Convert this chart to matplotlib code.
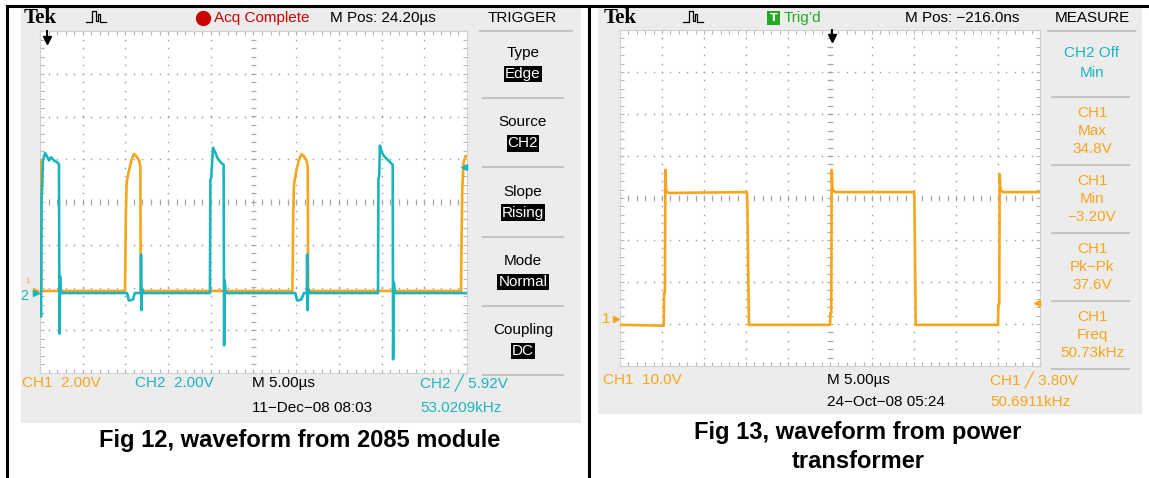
"""Two Tek scope screenshots side by side (Fig 12 / Fig 13), redrawn with matplotlib."""

import matplotlib

matplotlib.use("Agg")
import matplotlib.pyplot as plt
import numpy as np
from matplotlib.patches import Rectangle
from matplotlib.ticker import MultipleLocator

W, H = 1149, 478
ORANGE = "#F8A51B"
CYAN = "#1BB5C0"
PANEL = "#ECECEC"
SCOPE_FONT = ["Liberation Sans", "DejaVu Sans"]

# ---- Fig 12: 2085 module, CH1 + CH2, 5 us/div, 2 V/div ----
L_TDIV = 5.0
L_VDIV = 2.0
L_MPOS = 24.20  # us
L_TRIG = 5.92  # V on CH2
L_CH1_T = [0.0, 0.1, 0.15, 9.95, 10.0, 10.05, 10.15, 10.4, 10.7, 11.0, 11.3, 11.6, 11.75, 11.8,
           29.55, 29.6, 29.65, 29.75, 30.0, 30.3, 30.6, 30.9, 31.2, 31.35, 31.4,
           49.3, 49.35, 49.45, 49.6, 49.8, 50.0]
L_CH1_V = [6.1, 6.0, 0.0, 0.0, 1.3, 3.5, 5.1, 5.6, 6.1, 6.4, 6.3, 6.1, 5.8, 0.0,
           0.0, 1.5, 3.6, 5.0, 5.6, 6.1, 6.4, 6.3, 6.1, 5.8, 0.0,
           0.0, 2.0, 4.8, 6.0, 6.3, 6.3]
L_CH2_T = [0.0, 0.12, 0.18, 0.23, 0.35, 0.59, 0.82, 1.05, 1.29, 1.64, 2.11, 2.22, 2.28, 2.34, 2.46,
           10.2, 10.4, 10.9, 11.1, 11.8, 11.83, 11.88, 11.95, 12.1,
           19.9, 19.95, 20.05, 20.26, 20.5, 20.8, 21.2, 21.5, 21.56, 21.62, 21.75,
           29.9, 30.1, 30.6, 30.9, 31.25, 31.28, 31.33, 31.4, 31.55,
           39.58, 39.63, 39.72, 39.8, 40.0, 40.3, 40.8, 41.3, 41.35, 41.42, 41.6, 50.0]
L_CH2_V = [0.0, -1.1, 4.4, 4.8, 6.2, 6.55, 6.4, 6.2, 6.35, 6.2, 6.1, 6.0, -1.9, 0.8, 0.0,
           0.0, -0.35, -0.3, 0.0, 0.0, 1.8, -0.8, 0.2, 0.0,
           0.0, 5.3, 5.4, 6.8, 6.6, 6.3, 6.1, 6.0, -2.45, 0.6, 0.0,
           0.0, -0.35, -0.3, 0.0, 0.0, 1.8, -0.8, 0.2, 0.0,
           0.0, 5.3, 5.5, 6.9, 6.6, 6.4, 6.2, 6.0, -3.1, 0.5, 0.0, 0.0]
L_CH1_GND = -2.08  # divisions from centre
L_CH2_GND = -2.13

# ---- Fig 13: power transformer, CH1 only, 5 us/div, 10 V/div ----
R_TDIV = 5.0
R_VDIV = 10.0
R_MPOS = -0.216  # us
R_TRIG = 3.80
R_T = [0.0, 5.2, 5.25, 5.35, 5.4, 5.5, 5.8, 15.1, 15.15, 15.35,
       25.0, 25.05, 25.15, 25.2, 25.3, 25.6, 35.0, 35.05, 35.2,
       45.0, 45.05, 45.15, 45.2, 45.3, 45.6, 50.0]
R_V = [-1.4, -1.6, 6.2, 6.2, 35.5, 30.5, 30.0, 30.2, 28.8, -1.4,
       -1.4, 1.4, 1.4, 35.5, 31.0, 30.2, 30.2, 28.8, -1.4,
       -1.4, 3.5, 3.5, 34.5, 30.8, 30.2, 30.2]
R_GND = -2.88

L_MENU = [("Type", "Edge"), ("Source", "CH2"), ("Slope", "Rising"),
          ("Mode", "Normal"), ("Coupling", "DC")]
R_MENU = [("CH1", "Max", "34.8V"), ("CH1", "Min", "\u22123.20V"),
          ("CH1", "Pk\u2212Pk", "37.6V"), ("CH1", "Freq", "50.73kHz")]

fig = plt.figure(figsize=(W / 100, H / 100), dpi=100)


def overlay(z):
    a = fig.add_axes([0, 0, 1, 1], zorder=z)
    a.set_xlim(0, W)
    a.set_ylim(H, 0)
    a.axis("off")
    a.patch.set_alpha(0)
    return a


def pax(x0, y0, x1, y1):
    return fig.add_axes([x0 / W, 1 - y1 / H, (x1 - x0) / W, (y1 - y0) / H], zorder=2)


def graticule(ax):
    ax.set_xlim(0, 10)
    ax.set_ylim(-4, 4)
    ax.set_facecolor("white")
    for sp in ax.spines.values():
        sp.set_color("#d0d0d0")
        sp.set_linewidth(0.8)
    ax.xaxis.set_major_locator(MultipleLocator(1))
    ax.yaxis.set_major_locator(MultipleLocator(1))
    ax.xaxis.set_minor_locator(MultipleLocator(0.2))
    ax.yaxis.set_minor_locator(MultipleLocator(0.2))
    ax.tick_params(which="both", direction="in", length=3, width=0.8, color="#b4b4b4",
                   top=True, right=True, labelbottom=False, labelleft=False)
    fine_x = np.arange(0, 10.01, 0.2)
    fine_y = np.arange(-4, 4.01, 0.2)
    for gx in range(1, 10):
        ax.plot(np.full_like(fine_y, gx), fine_y, ls="none", marker="s", ms=1.0,
                mew=0, color="#9c9c9c")
    for gy in range(-3, 4):
        ax.plot(fine_x, np.full_like(fine_x, gy), ls="none", marker="s", ms=1.0,
                mew=0, color="#9c9c9c")
    ax.vlines(fine_x, -0.07, 0.07, color="#a8a8a8", lw=0.8)
    ax.hlines(fine_y, 4.93, 5.07, color="#a8a8a8", lw=0.8)


def trig_arrow(ax, mpos, tdiv):
    x = 5 - mpos / tdiv
    ax.plot([x, x], [4.0, 3.86], color="black", lw=1.4, clip_on=False, zorder=6)
    ax.plot(x, 3.8, marker="v", ms=6, color="black", clip_on=False, zorder=6)


bg = overlay(0)
fg = overlay(5)

# panels and frame
bg.add_patch(Rectangle((21, 8), 560, 415, color=PANEL, lw=0))
bg.add_patch(Rectangle((598, 8), 544, 406, color=PANEL, lw=0))
fg.plot([7, 1148], [6, 6], color="black", lw=2.2)
fg.plot([7, 7], [6, H], color="black", lw=2.2)
fg.plot([589, 589], [6, H], color="black", lw=2.2)


def txt(x, y, s, color="black", size=11, ha="left", **kw):
    fg.text(x, y, s, color=color, fontsize=size, ha=ha, va="center", family=SCOPE_FONT, **kw)


def pulse_icon(x0):
    xs = [x0, x0 + 6, x0 + 6, x0 + 10, x0 + 10, x0 + 12, x0 + 12, x0 + 14, x0 + 14, x0 + 20]
    ys = [22, 22, 11, 11, 21, 21, 14, 14, 22, 22]
    fg.plot(xs, ys, color="black", lw=0.9)


# ---------------- left screen ----------------
axl = pax(40, 31, 467, 373)
graticule(axl)
axl.plot(np.array(L_CH1_T) / L_TDIV, np.array(L_CH1_V) / L_VDIV + L_CH1_GND,
         color=ORANGE, lw=1.9, zorder=3)
axl.plot(np.array(L_CH2_T) / L_TDIV, np.array(L_CH2_V) / L_VDIV + L_CH2_GND,
         color=CYAN, lw=1.9, zorder=4)
trig_arrow(axl, L_MPOS, L_TDIV)
axl.plot(9.93, L_TRIG / L_VDIV + L_CH2_GND, marker="<", ms=5, color=CYAN, clip_on=False, zorder=6)
axl.plot(-0.1, L_CH1_GND, marker=">", ms=4, color=ORANGE, clip_on=False)
axl.plot(-0.1, L_CH2_GND, marker=">", ms=4, color=CYAN, clip_on=False)
axl.text(-0.28, L_CH1_GND + 0.22, "1", color=ORANGE, fontsize=6, ha="center", va="center",
         family=SCOPE_FONT, clip_on=False)
axl.text(-0.38, L_CH2_GND - 0.08, "2", color=CYAN, fontsize=10, ha="center", va="center",
         family=SCOPE_FONT, clip_on=False)

fg.text(24, 18, "Tek", fontsize=15, fontweight="bold", family="Liberation Serif", va="center")
pulse_icon(86)
fg.plot(203, 18, marker="o", ms=10, color="#CC0000")
txt(214, 18, "Acq Complete", color="#CC0000")
txt(330, 18, "M Pos: 24.20\u00b5s")
txt(522, 18, "TRIGGER", ha="center")
fg.plot([480, 572], [31, 31], color="#c4c4c4", lw=1.5)
for i, (head, val) in enumerate(L_MENU):
    y0 = 53 + i * 69.3
    txt(523, y0, head, ha="center")
    txt(523, y0 + 21, val, color="white", ha="center",
        bbox=dict(boxstyle="square,pad=0.08", fc="black", ec="none"))
    fg.plot([483, 563], [y0 + 45, y0 + 45], color="#c4c4c4", lw=1.5)

txt(22, 383, "CH1  2.00V", color=ORANGE)
txt(135, 383, "CH2  2.00V", color=CYAN)
txt(252, 383, "M 5.00\u00b5s")
txt(420, 383, "CH2 \u2571 5.92V", color=CYAN)
txt(252, 408, "11\u2212Dec\u221208 08:03")
txt(420, 408, "53.0209kHz", color=CYAN)
fg.text(300, 440, "Fig 12, waveform from 2085 module", fontsize=17, fontweight="bold",
        family="Liberation Sans", ha="center", va="center")

# ---------------- right screen ----------------
axr = pax(620, 30, 1040, 366)
graticule(axr)
axr.plot(np.array(R_T) / R_TDIV, np.array(R_V) / R_VDIV + R_GND, color=ORANGE, lw=1.9, zorder=3)
trig_arrow(axr, R_MPOS, R_TDIV)
axr.plot(9.93, R_TRIG / R_VDIV + R_GND, marker="<", ms=5, color=ORANGE, clip_on=False, zorder=6)
axr.plot(-0.1, R_GND, marker=">", ms=4, color=ORANGE, clip_on=False)
axr.text(-0.33, R_GND, "1", color=ORANGE, fontsize=11, ha="center", va="center",
         family=SCOPE_FONT, clip_on=False)

fg.text(604, 18, "Tek", fontsize=15, fontweight="bold", family="Liberation Serif", va="center")
pulse_icon(683)
fg.add_patch(Rectangle((767, 11), 13, 14, color="#22AA22", lw=0))
fg.text(773.5, 18, "T", color="white", fontsize=8, fontweight="bold", ha="center", va="center")
txt(784, 18, "Trig\u2019d", color="#22AA22")
txt(905, 18, "M Pos: \u2212216.0ns")
txt(1092, 18, "MEASURE", ha="center")
fg.plot([1048, 1135], [31, 31], color="#c4c4c4", lw=1.5)
txt(1092, 53, "CH2 Off", color=CYAN, ha="center")
txt(1092, 73, "Min", color=CYAN, ha="center")
fg.plot([1052, 1129], [97, 97], color="#c4c4c4", lw=1.5)
for i, (a, b, c) in enumerate(R_MENU):
    y0 = 113 + i * 68
    txt(1092, y0, a, color=ORANGE, ha="center")
    txt(1092, y0 + 18, b, color=ORANGE, ha="center")
    txt(1092, y0 + 36, c, color=ORANGE, ha="center")
    fg.plot([1052, 1129], [y0 + 52, y0 + 52], color="#c4c4c4", lw=1.5)

txt(603, 380, "CH1  10.0V", color=ORANGE)
txt(827, 380, "M 5.00\u00b5s")
txt(990, 380, "CH1 \u2571 3.80V", color=ORANGE)
txt(827, 402, "24\u2212Oct\u221208 05:24")
txt(990, 402, "50.6911kHz", color=ORANGE)
fg.text(858, 432, "Fig 13, waveform from power", fontsize=17, fontweight="bold",
        family="Liberation Sans", ha="center", va="center")
fg.text(858, 462, "transformer", fontsize=17, fontweight="bold",
        family="Liberation Sans", ha="center", va="center")

fig.savefig("out.png", dpi=100)
